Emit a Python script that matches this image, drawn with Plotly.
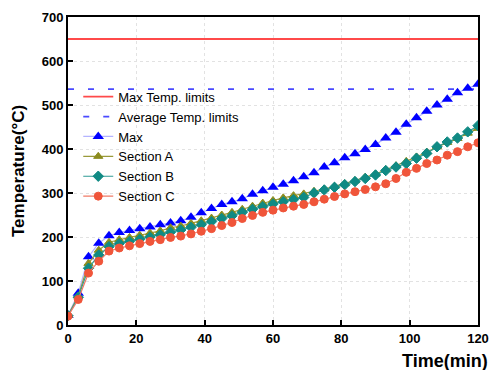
import plotly.graph_objects as go

time_min = list(range(0, 121, 3))

max_temp = [22, 72, 155, 186, 203, 210, 215, 219, 223, 228, 232, 237, 245, 255, 265,
            274, 280, 287, 297, 305, 313, 320, 328, 337, 346, 359, 369, 380, 389, 399,
            410, 425, 438, 456, 471, 486, 500, 513, 528, 538, 547]
section_a = [22, 66, 140, 170, 188, 194, 199, 204, 209, 214, 221, 225, 231, 237, 243,
             250, 256, 263, 270, 277, 283, 289, 294, 298, 304, 309, 315, 321, 328, 336,
             343, 353, 362, 372, 382, 393, 405, 415, 424, 436, 447]
section_b = [21, 63, 129, 159, 178, 185, 190, 195, 200, 205, 211, 216, 222, 228, 235,
             242, 248, 256, 263, 269, 275, 280, 285, 290, 300, 307, 313, 319, 326, 333,
             341, 351, 359, 367, 379, 390, 405, 416, 425, 439, 453]
section_c = [20, 58, 118, 145, 168, 175, 180, 185, 190, 194, 199, 202, 207, 213, 219,
             226, 233, 242, 249, 256, 261, 266, 270, 274, 280, 286, 292, 298, 303, 308,
             314, 321, 333, 347, 356, 367, 375, 386, 394, 405, 414]

max_limit = 650
avg_limit = 536

x_ticks = [0, 20, 40, 60, 80, 100, 120]
y_ticks = [0, 100, 200, 300, 400, 500, 600, 700]

FONT = "Liberation Sans, Arial"

fig = go.Figure()

fig.add_trace(go.Scatter(x=[0, 120], y=[max_limit, max_limit], mode="lines",
                         name="Max Temp. limits", line=dict(color="#ff4a4a", width=1.8)))
fig.add_trace(go.Scatter(x=[0, 120], y=[avg_limit, avg_limit], mode="lines",
                         name="Average Temp. limits",
                         line=dict(color="#4a4aff", width=1.8, dash="6px,14px")))
fig.add_trace(go.Scatter(x=time_min, y=max_temp, mode="lines+markers", name="Max",
                         line=dict(color="#b4b4ff", width=1.2),
                         marker=dict(symbol="triangle-up", size=10, color="#0000ff")))
fig.add_trace(go.Scatter(x=time_min, y=section_a, mode="lines+markers", name="Section A",
                         line=dict(color="#9a9a3a", width=1.2),
                         marker=dict(symbol="triangle-up", size=8, color="#8c8c1e",
                                     line=dict(color="#8c8c1e", width=1))))
fig.add_trace(go.Scatter(x=time_min, y=section_b, mode="lines+markers", name="Section B",
                         line=dict(color="#2e9a94", width=1.2),
                         marker=dict(symbol="diamond", size=8, color="#108a84",
                                     line=dict(color="#108a84", width=1))))
fig.add_trace(go.Scatter(x=time_min, y=section_c, mode="lines+markers", name="Section C",
                         line=dict(color="#f07a66", width=1.2),
                         marker=dict(symbol="circle", size=8, color="#f0553a",
                                     line=dict(color="#f0553a", width=1))))

axis_common = dict(showline=True, linecolor="black", linewidth=2, mirror=True,
                   ticks="inside", ticklen=5, tickwidth=1.5, tickcolor="black",
                   showgrid=True, gridcolor="#e2e2e2", griddash="dot", gridwidth=1,
                   zeroline=False, automargin=False,
                   tickfont=dict(family=FONT, size=13, color="black", weight="bold"))

fig.update_xaxes(range=[0, 120], tickvals=x_ticks, **axis_common)
fig.update_yaxes(range=[0, 700], tickvals=y_ticks, **axis_common)

fig.add_annotation(text="Temperature(°C)", xref="paper", yref="paper", x=0, y=0.5,
                   xanchor="center", yanchor="middle", xshift=-50, textangle=-90,
                   showarrow=False,
                   font=dict(family=FONT, size=17, color="black", weight="bold"))

fig.add_annotation(text="Time(min)", xref="paper", yref="paper", x=1, y=0,
                   xanchor="right", yanchor="top", xshift=12, yshift=-24,
                   showarrow=False,
                   font=dict(family=FONT, size=18, color="black", weight="bold"))

fig.update_layout(
    width=491, height=370,
    margin=dict(l=68, r=13, t=17, b=45, autoexpand=False),
    plot_bgcolor="white", paper_bgcolor="white",
    showlegend=True,
    legend=dict(x=0.025, y=0.79, xanchor="left", yanchor="top",
                bgcolor="rgba(0,0,0,0)",
                font=dict(family=FONT, size=13, color="black"),
                itemwidth=30, tracegroupgap=0),
)

fig.write_html("out.html")
